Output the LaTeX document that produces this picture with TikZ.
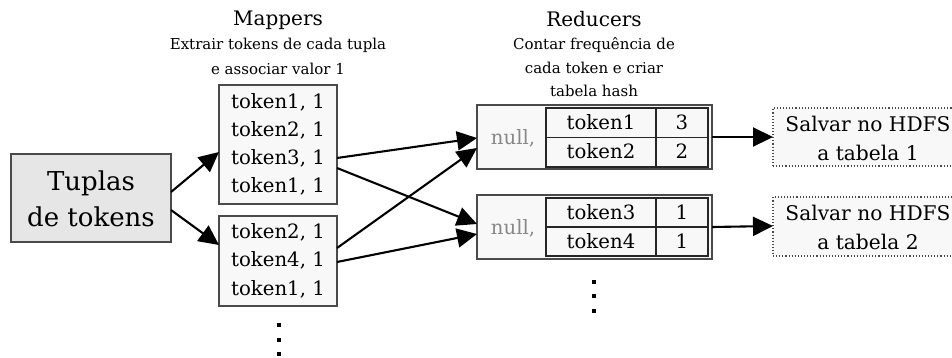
\documentclass[tikz,border=0pt]{standalone}
\usepackage{fontspec}
\setmainfont{DejaVu Serif}
\usetikzlibrary{arrows.meta,calc}
\definecolor{boxfill}{HTML}{F8F8F8}
\definecolor{tupfill}{HTML}{E6E6E6}
\definecolor{edge}{HTML}{4A4A4A}
\definecolor{nullgray}{HTML}{888888}
\tikzset{
  base/.style={inner sep=0pt, outer sep=0pt},
  tupbox/.style={base, draw=edge, line width=1.3pt, fill=tupfill},
  mapbox/.style={base, draw=edge, line width=1.3pt, fill=boxfill},
  redbox/.style={base, draw=edge, line width=1.3pt, fill=boxfill},
  tablebox/.style={base, draw=black!85, line width=1.3pt},
  savebox/.style={base, draw=edge, line width=1.1pt, dotted, fill=boxfill},
  title/.style={base, font=\fontsize{20}{22}\selectfont},
  subtitle/.style={base, font=\fontsize{15}{17}\selectfont},
  tok/.style={base, font=\fontsize{19.7}{22}\selectfont},
  big/.style={base, font=\fontsize{26}{29}\selectfont},
  save/.style={base, font=\fontsize{20.2}{23}\selectfont},
  dotsq/.style={base, fill=black, minimum width=4.5pt, minimum height=4.5pt},
  arr/.style={line width=2.1pt, -{Triangle[length=20pt,width=19pt]}},
}
\begin{document}
\begin{tikzpicture}[x=1pt,y=-1pt]
\useasboundingbox (0,0) rectangle (952,357);
\clip (0,0) rectangle (952,357);

% Tuplas
\node[tupbox, minimum width=160pt, minimum height=88pt] (tup) at (91,198) {};
\node[big] (tupa) at (91,183) {Tuplas};
\node[big] (tupb) at (91,217) {de tokens};

% Mappers titles
\node[title] (mt) at (278,20) {Mappers};
\node[subtitle] (ms1) at (278,45) {Extrair tokens de cada tupla};
\node[subtitle] (ms2) at (278,69) {e associar valor 1};

% Mapper boxes
\node[mapbox, minimum width=118pt, minimum height=119pt] (m1) at (278,144.5) {};
\node[tok] (m1a) at (278,102) {token1, 1};
\node[tok] (m1b) at (278,130) {token2, 1};
\node[tok] (m1c) at (278,158) {token3, 1};
\node[tok] (m1d) at (278,186) {token1, 1};

\node[mapbox, minimum width=118pt, minimum height=90pt] (m2) at (278,261) {};
\node[tok] (m2a) at (278,232) {token2, 1};
\node[tok] (m2b) at (278,260) {token4, 1};
\node[tok] (m2c) at (278,289) {token1, 1};

\node[dotsq] (md1) at (279,325) {};
\node[dotsq] (md2) at (279,340) {};
\node[dotsq] (md3) at (279,354) {};

% Reducers titles
\node[title] (rt) at (594,19) {Reducers};
\node[subtitle] (rs1) at (594,45) {Contar frequência de};
\node[subtitle] (rs2) at (594,68) {cada token e criar};
\node[subtitle] (rs3) at (594,91) {tabela hash};

% Reducer 1
\node[redbox, minimum width=235pt, minimum height=64pt] (r1) at (594.5,137) {};
\node[tablebox, minimum width=162pt, minimum height=59pt] (t1) at (627,137.5) {};
\draw[black!85, line width=1.3pt] (t1.north west) ++(110,0) coordinate (t1c) -- (t1c |- t1.south);
\draw[black!85, line width=1.3pt] (t1.west) -- (t1.east);
\node[tok, text=nullgray] (n1) at (513,138) {null,};
\node[tok] (r1a) at (601,122) {token1};
\node[tok] (r1b) at (682,122) {3};
\node[tok] (r1c) at (601,151) {token2};
\node[tok] (r1d) at (682,151) {2};

% Reducer 2
\node[redbox, minimum width=235pt, minimum height=64pt] (r2) at (594.5,227) {};
\node[tablebox, minimum width=162pt, minimum height=58pt] (t2) at (627,227) {};
\draw[black!85, line width=1.3pt] (t2.north west) ++(110,0) coordinate (t2c) -- (t2c |- t2.south);
\draw[black!85, line width=1.3pt] (t2.west) -- (t2.east);
\node[tok, text=nullgray] (n2) at (513,228) {null,};
\node[tok] (r2a) at (601,212) {token3};
\node[tok] (r2b) at (682,212) {1};
\node[tok] (r2c) at (601,241) {token4};
\node[tok] (r2d) at (682,241) {1};

\node[dotsq] (rd1) at (594,282) {};
\node[dotsq] (rd2) at (594,296) {};
\node[dotsq] (rd3) at (594,311) {};

% Save boxes
\node[savebox, minimum width=192pt, minimum height=58pt] (s1) at (869,137) {};
\node[save] (s1a) at (868,124) {Salvar no HDFS};
\node[save] (s1b) at (868,153) {a tabela 1};
\node[savebox, minimum width=192pt, minimum height=59pt] (s2) at (869,226.5) {};
\node[save] (s2a) at (868,213) {Salvar no HDFS};
\node[save] (s2b) at (868,242) {a tabela 2};

% Arrows
\draw[arr] ([yshift=6pt]tup.east) -- ([yshift=-7.5pt]m1.west);
\draw[arr] ([yshift=-12pt]tup.east) -- ([yshift=16pt]m2.west);
\draw[arr] ([yshift=-13.5pt]m1.east) -- ([yshift=-1pt]r1.west);
\draw[arr] ([yshift=-23.5pt]m1.east) -- ([yshift=3pt]r2.west);
\draw[arr] ([yshift=13pt]m2.east) -- ([yshift=-11pt]r1.west);
\draw[arr] ([yshift=-1pt]m2.east) -- ([yshift=-7pt]r2.west);
\draw[arr] (r1.east) -- (s1.west);
\draw[arr] (r2.east) -- ([yshift=0.5pt]s2.west);
\end{tikzpicture}
\end{document}
